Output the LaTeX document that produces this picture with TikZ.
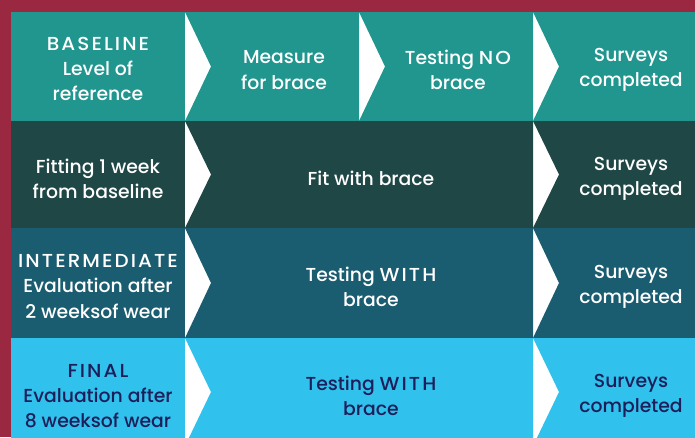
\documentclass[tikz,border=0pt]{standalone}
\usepackage{fontspec}
\setmainfont{Poppins Medium}
\newfontfamily\capsfont{Poppins Medium}[LetterSpace=11,FakeStretch=1.06]
\definecolor{maroon}{RGB}{155,40,65}
\definecolor{rowA}{RGB}{32,150,143}
\definecolor{rowB}{RGB}{31,71,70}
\definecolor{rowC}{RGB}{26,92,112}
\definecolor{rowD}{RGB}{48,193,236}
\definecolor{navytext}{RGB}{30,30,90}
\tikzset{
  lbl/.style={align=center, text=white, font=\fontsize{18.8}{25.3}\selectfont, inner sep=0pt},
  lbldark/.style={lbl, text=navytext}
}
\newcommand{\firstbox}[3]{\fill[#3] (11,#1) rectangle (185,#2);}
\newcommand{\notchbox}[5]{\fill[#3] (#4,#1) -- (#5,#1) -- (#5,#2) -- (#4,#2) -- ({#4+26},{(#1+#2)/2}) -- cycle;}
\newcommand{\cp}[1]{{\capsfont #1}}
\begin{document}
\begin{tikzpicture}[x=1pt,y=-1pt]
\useasboundingbox (0,0) rectangle (695,437);
\fill[white] (0,0) rectangle (695,437);
\begin{scope}
\clip (0,0) rectangle (695,437);
% row 1
\firstbox{12}{121}{rowA}
\notchbox{12}{121}{rowA}{185}{359}
\notchbox{12}{121}{rowA}{359}{533}
\notchbox{12}{121}{rowA}{533}{700}
% row 2
\firstbox{121}{228}{rowB}
\notchbox{121}{228}{rowB}{185}{533}
\notchbox{121}{228}{rowB}{533}{700}
% row 3
\firstbox{228}{338}{rowC}
\notchbox{228}{338}{rowC}{185}{533}
\notchbox{228}{338}{rowC}{533}{700}
% row 4
\firstbox{338}{446}{rowD}
\notchbox{338}{446}{rowD}{185}{533}
\notchbox{338}{446}{rowD}{533}{700}
\end{scope}
% border
\fill[maroon] (0,0) rectangle (695,12);
\fill[maroon] (0,0) rectangle (11,437);
% labels row 1
\node[lbl] (a1) at (98,69) {\cp{BASELINE}\\Level of\\reference};
\node[lbl] (a2) at (284,70) {Measure\\for brace};
\node[lbl] (a3) at (458,70) {Testing \cp{NO}\\brace};
\node[lbl] (a4) at (631,70) {Surveys\\completed};
% row 2
\node[lbl] (b1) at (98,178.5) {Fitting 1 week\\from baseline};
\node[lbl] (b2) at (371,178.5) {Fit with brace};
\node[lbl] (b3) at (631,178.5) {Surveys\\completed};
% row 3
\node[lbl] (c1) at (98,286.5) {\cp{INTERMEDIATE}\\Evaluation after\\2 weeksof wear};
\node[lbl] (c2) at (371,287) {Testing \cp{WITH}\\brace};
\node[lbl] (c3) at (631,287) {Surveys\\completed};
% row 4
\node[lbldark] (d1) at (98,396) {\cp{FINAL}\\Evaluation after\\8 weeksof wear};
\node[lbldark] (d2) at (371,396) {Testing \cp{WITH}\\brace};
\node[lbldark] (d3) at (631,396) {Surveys\\completed};
\end{tikzpicture}
\end{document}
